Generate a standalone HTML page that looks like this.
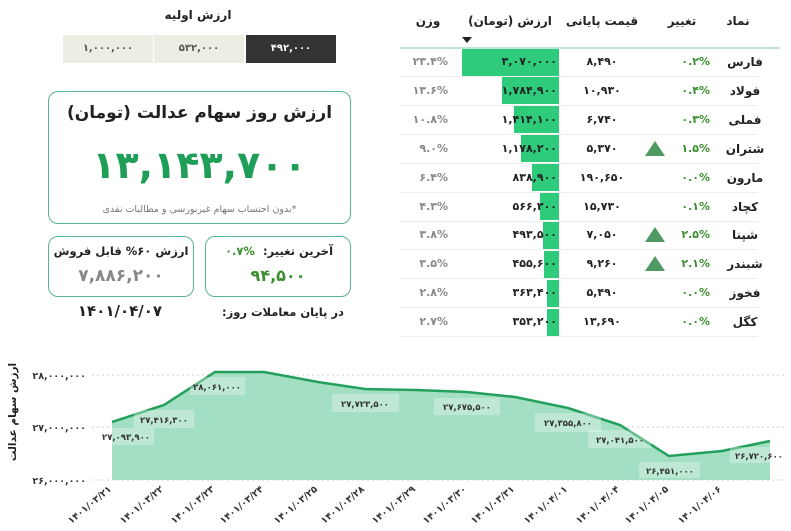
<!DOCTYPE html>
<html><head><meta charset="utf-8">
<style>
*{margin:0;padding:0;box-sizing:border-box}
body{width:791px;height:531px;background:#fff;position:relative;overflow:hidden;font-family:"DejaVu Sans","Liberation Sans",sans-serif;color:#222}
.a{position:absolute;white-space:nowrap}
.c{text-align:center}
.btn{position:absolute;top:35px;height:28px;width:90px;background:#eceee3;font-size:10px;color:#555;text-align:center;line-height:28px;font-weight:bold}
.card{position:absolute;border:1.5px solid #56b48f;border-radius:10px}
.g{color:#3a8f2e}
.w{color:#888}
.h{position:absolute;top:14px;font-size:12px;font-weight:bold;text-align:center;width:100px;direction:rtl}
.t{position:absolute;font-size:11px;font-weight:bold;line-height:16px}
.bar{position:absolute;height:27px;background:#2ecc7a}
.tri{position:absolute;width:0;height:0;border-left:10px solid transparent;border-right:10px solid transparent;border-bottom:15px solid #4d9a62}
.rl{position:absolute;left:400px;width:358px;height:1px;background:#eee}
</style></head><body>

<div class="a c" style="left:140px;top:8px;width:116px;font-size:12px;font-weight:bold">ارزش اولیه</div>
<div class="btn" style="left:63px">۱,۰۰۰,۰۰۰</div>
<div class="btn" style="left:154px">۵۳۲,۰۰۰</div>
<div class="btn" style="left:246px;background:#333;color:#fff">۴۹۲,۰۰۰</div>

<div class="card" style="left:48px;top:91px;width:303px;height:133px"></div>
<div class="a c" style="left:48px;top:103px;width:303px;font-size:17px;font-weight:bold;direction:rtl">ارزش روز سهام عدالت (تومان)</div>
<div class="a c" style="left:48px;top:143px;width:303px;font-size:38px;font-weight:bold;color:#1f9e58">۱۳,۱۴۳,۷۰۰</div>
<div class="a c" style="left:48px;top:204px;width:303px;font-size:9.5px;color:#777;direction:rtl">*بدون احتساب سهام غیربورسی و مطالبات نقدی</div>

<div class="card" style="left:48px;top:236px;width:146px;height:61px"></div>
<div class="a c" style="left:48px;top:244px;width:146px;font-size:11.5px;font-weight:bold;direction:rtl">ارزش ۶۰% قابل فروش</div>
<div class="a c" style="left:48px;top:266px;width:146px;font-size:17px;font-weight:bold;color:#888">۷,۸۸۶,۲۰۰</div>
<div class="card" style="left:205px;top:236px;width:146px;height:61px"></div>
<div class="a" style="left:263px;top:244px;font-size:11.5px;font-weight:bold;direction:rtl">آخرین تغییر:</div>
<div class="a g" style="left:225px;top:244px;font-size:11.5px;font-weight:bold">۰.۷%</div>
<div class="a c g" style="left:205px;top:266px;width:146px;font-size:16px;font-weight:bold">۹۴,۵۰۰</div>
<div class="a c" style="left:60px;top:302px;width:120px;font-size:15px;font-weight:bold">۱۴۰۱/۰۴/۰۷</div>
<div class="a" style="left:222px;top:305px;font-size:11.5px;font-weight:bold;direction:rtl">در پایان معاملات روز:</div>

<div class="h" style="left:688px">نماد</div>
<div class="h" style="left:632px">تغییر</div>
<div class="h" style="left:552px">قیمت پایانی</div>
<div class="h" style="left:460px">ارزش (تومان)</div>
<div class="h" style="left:378px">وزن</div>
<div class="a" style="left:462px;top:37px;width:0;height:0;border-left:5px solid transparent;border-right:5px solid transparent;border-top:6px solid #222"></div>
<div class="a" style="left:400px;top:47px;width:380px;height:2px;background:#c2e2da"></div>

<div id="rows"></div>
<script>
var d=[["فارس","۰.۲%","۸,۴۹۰","۳,۰۷۰,۰۰۰","۲۳.۴%",97,0],
["فولاد","۰.۴%","۱۰,۹۳۰","۱,۷۸۴,۹۰۰","۱۳.۶%",57,0],
["فملی","۰.۳%","۶,۷۴۰","۱,۴۱۴,۱۰۰","۱۰.۸%",45,0],
["شتران","۱.۵%","۵,۳۷۰","۱,۱۷۸,۲۰۰","۹.۰%",38,1],
["مارون","۰.۰%","۱۹۰,۶۵۰","۸۳۸,۹۰۰","۶.۴%",27,0],
["کچاد","۰.۱%","۱۵,۷۳۰","۵۶۶,۳۰۰","۴.۳%",19,0],
["شپنا","۲.۵%","۷,۰۵۰","۴۹۳,۵۰۰","۳.۸%",16,1],
["شبندر","۲.۱%","۹,۲۶۰","۴۵۵,۶۰۰","۳.۵%",15,1],
["فخوز","۰.۰%","۵,۴۹۰","۳۶۳,۴۰۰","۲.۸%",12,0],
["کگل","۰.۰%","۱۳,۶۹۰","۳۵۳,۲۰۰","۲.۷%",12,0]];
var h="";
for(var i=0;i<d.length;i++){var r=d[i],cy=62+28.9*i,ty=cy-8;
h+='<div class="bar" style="left:'+(559-r[5])+'px;top:'+(cy-13.5)+'px;width:'+r[5]+'px"></div>';
h+='<div class="t c" style="left:715px;width:60px;top:'+ty+'px;font-size:12px">'+r[0]+'</div>';
h+='<div class="t g" style="right:'+(791-710)+'px;top:'+ty+'px">'+r[1]+'</div>';
if(r[6])h+='<div class="tri" style="left:645px;top:'+(cy-8)+'px"></div>';
h+='<div class="t c" style="left:562px;width:80px;top:'+ty+'px">'+r[2]+'</div>';
h+='<div class="t" style="right:'+(791-557)+'px;top:'+ty+'px">'+r[3]+'</div>';
h+='<div class="t w" style="right:'+(791-448)+'px;top:'+ty+'px">'+r[4]+'</div>';
h+='<div class="rl" style="top:'+(cy+14)+'px"></div>';}
document.getElementById("rows").innerHTML=h;
</script>

<svg class="a" style="left:0;top:0" width="791" height="531" font-family="DejaVu Sans, sans-serif">
<g stroke="#ccc" stroke-dasharray="2,3" stroke-width="1">
<line x1="92" y1="375" x2="785" y2="375"/><line x1="92" y1="427" x2="785" y2="427"/><line x1="92" y1="480" x2="785" y2="480"/>
</g>
<g font-size="9.5" font-weight="bold" fill="#333" text-anchor="end">
<text x="86" y="379">۲۸,۰۰۰,۰۰۰</text><text x="86" y="431">۲۷,۰۰۰,۰۰۰</text><text x="86" y="484">۲۶,۰۰۰,۰۰۰</text>
</g>
<text transform="translate(16,412) rotate(-90)" font-size="10.5" font-weight="bold" text-anchor="middle" fill="#222">ارزش سهام عدالت</text>
<path d="M112,422 L164,405 L215,372 L264,372 L318,382 L365,389 L416,390 L467,392 L515,397 L568,408 L620,425 L669,456 L722,451 L770,441 L770,480 L112,480 Z" fill="#a3dfc2"/>
<path d="M112,422 L164,405 L215,372 L264,372 L318,382 L365,389 L416,390 L467,392 L515,397 L568,408 L620,425 L669,456 L722,451 L770,441" fill="none" stroke="#23a05c" stroke-width="2.5"/>
<g fill="#fff" fill-opacity="0.3">
<rect x="98" y="428" width="56" height="17"/><rect x="134" y="410" width="60" height="18"/><rect x="190" y="377" width="55" height="18"/>
<rect x="332" y="394" width="67" height="18"/><rect x="434" y="398" width="66" height="17"/><rect x="535" y="413" width="66" height="19"/>
<rect x="588" y="430" width="63" height="18"/><rect x="639" y="462" width="61" height="16"/><rect x="730" y="447" width="58" height="16"/>
</g>
<g font-size="8.5" font-weight="bold" fill="#333" text-anchor="middle">
<text x="126" y="440">۲۷,۰۹۳,۹۰۰</text><text x="164" y="423">۲۷,۴۱۶,۳۰۰</text><text x="217" y="390">۲۸,۰۶۱,۰۰۰</text>
<text x="365" y="407">۲۷,۷۲۳,۵۰۰</text><text x="467" y="410">۲۷,۶۷۵,۵۰۰</text><text x="568" y="426">۲۷,۳۵۵,۸۰۰</text>
<text x="620" y="443">۲۷,۰۴۱,۵۰۰</text><text x="670" y="474">۲۶,۴۵۱,۰۰۰</text><text x="759" y="459">۲۶,۷۲۰,۶۰۰</text>
</g>
<g font-size="9.5" font-weight="bold" fill="#333" text-anchor="end">
<text transform="translate(112,490) rotate(-40)">۱۴۰۱/۰۳/۲۱</text>
<text transform="translate(164,490) rotate(-40)">۱۴۰۱/۰۳/۲۲</text>
<text transform="translate(215,490) rotate(-40)">۱۴۰۱/۰۳/۲۳</text>
<text transform="translate(264,490) rotate(-40)">۱۴۰۱/۰۳/۲۴</text>
<text transform="translate(318,490) rotate(-40)">۱۴۰۱/۰۳/۲۵</text>
<text transform="translate(365,490) rotate(-40)">۱۴۰۱/۰۳/۲۸</text>
<text transform="translate(416,490) rotate(-40)">۱۴۰۱/۰۳/۲۹</text>
<text transform="translate(467,490) rotate(-40)">۱۴۰۱/۰۳/۳۰</text>
<text transform="translate(515,490) rotate(-40)">۱۴۰۱/۰۳/۳۱</text>
<text transform="translate(568,490) rotate(-40)">۱۴۰۱/۰۴/۰۱</text>
<text transform="translate(620,490) rotate(-40)">۱۴۰۱/۰۴/۰۴</text>
<text transform="translate(669,490) rotate(-40)">۱۴۰۱/۰۴/۰۵</text>
<text transform="translate(722,490) rotate(-40)">۱۴۰۱/۰۴/۰۶</text>
</g>
</svg>
</body></html>
